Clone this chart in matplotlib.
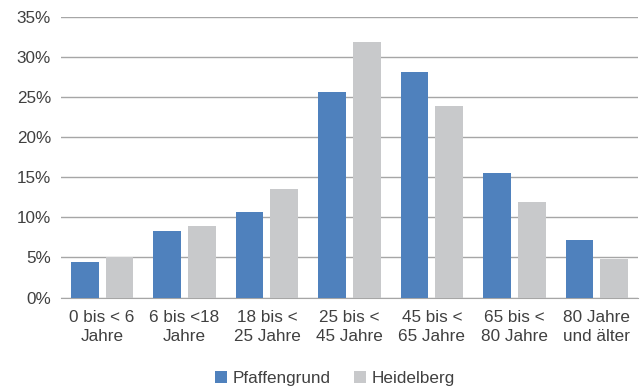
import numpy as np
import matplotlib.pyplot as plt
from matplotlib.ticker import FuncFormatter

plt.rcParams['font.family'] = ['Liberation Sans', 'DejaVu Sans']

categories = ['0 bis < 6\nJahre', '6 bis <18\nJahre', '18 bis <\n25 Jahre', '25 bis <\n45 Jahre',
              '45 bis <\n65 Jahre', '65 bis <\n80 Jahre', '80 Jahre\nund älter']
pfaffengrund = [4.45, 8.35, 10.7, 25.6, 28.1, 15.5, 7.2]
heidelberg = [5.05, 8.95, 13.5, 31.85, 23.9, 11.9, 4.75]

blue = '#4f81bd'
grey = '#c8c9cb'
txt = '#404040'

fig = plt.figure(figsize=(6.4, 3.89), dpi=100)
ax = fig.add_axes([0.095, 0.235, 0.902, 0.722])

x = np.arange(len(categories))
w = 0.335
ax.bar(x - 0.21, pfaffengrund, w, color=blue, label='Pfaffengrund', zorder=3)
ax.bar(x + 0.21, heidelberg, w, color=grey, label='Heidelberg', zorder=3)

ax.set_xlim(-0.5, 6.5)
ax.set_ylim(0, 35)
ax.set_yticks(np.arange(0, 36, 5))
ax.yaxis.set_major_formatter(FuncFormatter(lambda v, p: '%d%%' % v))
ax.set_xticks(x)
ax.set_xticklabels(categories, linespacing=1.35)
ax.grid(axis='y', color='#a6a6a6', linewidth=1, zorder=0)
for s in ['left', 'right', 'top']:
    ax.spines[s].set_visible(False)
ax.spines['bottom'].set_color('#a6a6a6')
ax.tick_params(length=0, labelsize=12.3, colors=txt)
ax.tick_params(axis='x', pad=9)
ax.tick_params(axis='y', pad=7)

fig.legend(loc='center', bbox_to_anchor=(0.523, 0.028), ncol=2, frameon=False,
           fontsize=12.3, handlelength=0.7, handleheight=0.7, handletextpad=0.3,
           columnspacing=1.4, labelcolor=txt)

plt.savefig('out.png')
